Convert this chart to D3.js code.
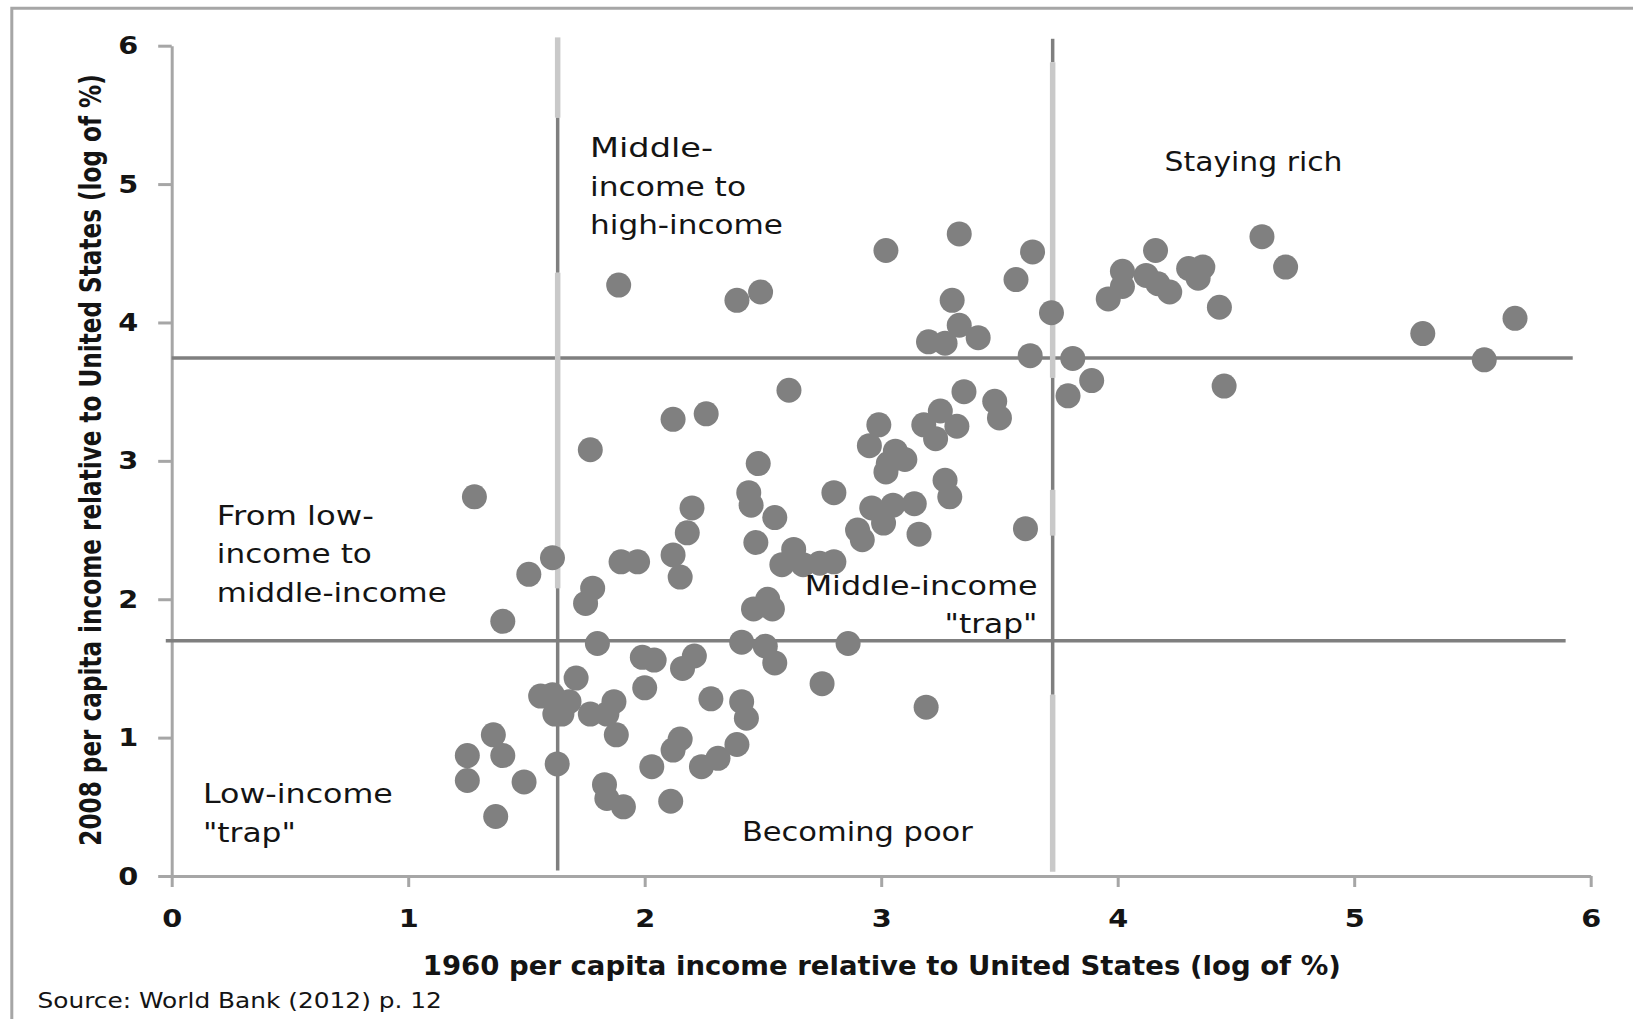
<!DOCTYPE html>
<html>
<head>
<meta charset="utf-8">
<script src="https://cdn.jsdelivr.net/npm/d3@7"></script>
<style>
  html, body { margin: 0; padding: 0; background: #ffffff; }
  svg { display: block; }
</style>
</head>
<body>
<svg id="chart" width="1633" height="1019"></svg>
<script>
// ---------------- DATA ----------------
const x1960 = [
  1.89, 2.39, 2.49, 3.02, 3.33, 3.64, 3.57, 3.30, 3.72, 3.33,
  3.41, 3.20, 3.27, 3.63, 3.81, 3.89, 3.79, 2.61, 2.12, 2.26,
  1.77, 2.48, 2.99, 3.35, 3.48, 3.50, 3.25, 3.18, 3.32, 3.23,
  2.95, 3.06, 3.10, 3.03, 3.02, 3.27, 2.80, 2.44, 3.29, 4.16,
  4.61, 4.71, 4.02, 4.12, 4.02, 3.96, 4.22, 4.17, 4.30, 4.36,
  4.34, 4.43, 4.45, 5.29, 5.55, 5.68, 2.45, 2.20, 2.18, 2.55,
  2.96, 3.05, 3.14, 3.01, 2.90, 2.92, 3.16, 3.61, 2.47, 2.63,
  2.58, 2.67, 2.74, 2.80, 2.12, 2.15, 1.90, 1.97, 1.61, 1.78,
  1.75, 2.52, 2.46, 2.54, 1.80, 2.41, 2.51, 2.55, 2.86, 1.99,
  2.04, 2.21, 2.16, 1.71, 1.61, 1.68, 1.65, 1.77, 1.87, 1.84,
  2.00, 2.28, 2.41, 2.43, 2.75, 3.19, 1.88, 2.15, 2.12, 2.39,
  2.31, 2.24, 2.03, 1.63, 1.83, 1.84, 1.91, 2.11, 1.28, 1.51,
  1.40, 1.56, 1.36, 1.25, 1.40, 1.25, 1.49, 1.37, 1.62
];
const y2008 = [
  4.27, 4.16, 4.22, 4.52, 4.64, 4.51, 4.31, 4.16, 4.07, 3.98,
  3.89, 3.86, 3.85, 3.76, 3.74, 3.58, 3.47, 3.51, 3.30, 3.34,
  3.08, 2.98, 3.26, 3.50, 3.43, 3.31, 3.36, 3.26, 3.25, 3.16,
  3.11, 3.07, 3.01, 2.98, 2.92, 2.86, 2.77, 2.77, 2.74, 4.52,
  4.62, 4.40, 4.37, 4.34, 4.26, 4.17, 4.22, 4.28, 4.39, 4.40,
  4.32, 4.11, 3.54, 3.92, 3.73, 4.03, 2.68, 2.66, 2.48, 2.59,
  2.66, 2.68, 2.69, 2.55, 2.50, 2.43, 2.47, 2.51, 2.41, 2.36,
  2.25, 2.25, 2.26, 2.27, 2.32, 2.16, 2.27, 2.27, 2.30, 2.08,
  1.97, 2.00, 1.93, 1.93, 1.68, 1.69, 1.66, 1.54, 1.68, 1.58,
  1.56, 1.59, 1.50, 1.43, 1.31, 1.26, 1.17, 1.17, 1.26, 1.17,
  1.36, 1.28, 1.26, 1.14, 1.39, 1.22, 1.02, 0.99, 0.91, 0.95,
  0.85, 0.79, 0.79, 0.81, 0.66, 0.56, 0.50, 0.54, 2.74, 2.18,
  1.84, 1.30, 1.02, 0.87, 0.87, 0.69, 0.68, 0.43, 1.17
];
const xTickValues = [0, 1, 2, 3, 4, 5, 6];
const yTickValues = [0, 1, 2, 3, 4, 5, 6];
const xThresholds = [1.632, 3.725];   // 1960 income-group boundaries
const yThresholds = [1.70, 3.743];    // 2008 income-group boundaries

const xTitle = "1960 per capita income relative to United States (log of %)";
const yTitle = "2008 per capita income relative to United States (log of %)";
const sourceText = "Source: World Bank (2012) p. 12";

// quadrant annotation texts and their anchors (data units)
const annotationLines = [
  ["Staying rich"],
  ["Middle-", "income to", "high-income"],
  ["From low-", "income to", "middle-income"],
  ["Low-income", "\"trap\""],
  ["Middle-income", "\"trap\""],
  ["Becoming poor"]
];
const annotationX = [4.198, 1.769, 0.191, 0.132, 3.661, 2.411];
const annotationY = [5.094, 5.193, 2.538, 0.527, 2.034, 0.253];

// ---------------- STYLE / LAYOUT ----------------
const W = 1633, H = 1019;
const axisColor = "#a6a6a6";
const lineDark = "#7f7f7f";
const lineLight = "#c9c9c9";
const dotColor = "#808080";
const textColor = "#141414";
const font = "'DejaVu Sans', 'Liberation Sans', sans-serif";

const annotationAnchor = ["start", "start", "start", "start", "end", "start"];
const annotationWidths = [
  [178], [123, 156, 193], [157, 155, 230], [190, 93], [233, 93], [231]
];
const lineGap = 38.5;

// vertical divider rendering (shaded segments, as in the source image)
const vSegments = [
  [[6.06, 5.48, "l"], [5.48, 4.36, "d"], [4.36, 2.08, "l"], [2.08, 0.04, "d"]],
  [[6.05, 5.88, "d"], [5.88, 3.60, "l"], [3.60, 2.79, "d"], [2.79, 2.46, "l"], [2.46, 1.31, "d"], [1.31, 0.03, "l"]]
];
const hExtent = [[-0.025, 5.894], [0.0, 5.924]];

const svg = d3.select("#chart");
svg.append("rect").attr("width", W).attr("height", H).attr("fill", "#ffffff");

// outer frame (top and left edges visible)
svg.append("path")
  .attr("d", `M11.8,${H}V8.3H${W}`)
  .attr("fill", "none").attr("stroke", axisColor).attr("stroke-width", 3);

const x = d3.scaleLinear().domain([0, 6]).range([171.7, 1590.7]);
const y = d3.scaleLinear().domain([0, 6]).range([876, 45.7]);

// ---------------- AXES ----------------
const gx = svg.append("g")
  .attr("transform", `translate(0,${y(0)})`)
  .call(d3.axisBottom(x).tickValues(xTickValues).tickSize(11).tickSizeOuter(0)
        .tickPadding(22).tickFormat(d3.format("d")));
const gy = svg.append("g")
  .attr("transform", `translate(${x(0)},0)`)
  .call(d3.axisLeft(y).tickValues(yTickValues).tickSize(13.5).tickSizeOuter(0)
        .tickPadding(20).tickFormat(d3.format("d")));

[gx, gy].forEach(g => {
  g.select(".domain").attr("stroke", axisColor).attr("stroke-width", 3);
  g.selectAll(".tick line").attr("stroke", axisColor).attr("stroke-width", 3);
  g.selectAll(".tick text")
    .attr("font-family", font).attr("font-weight", "bold")
    .attr("font-size", 25).attr("fill", textColor)
    .attr("textLength", 20).attr("lengthAdjust", "spacingAndGlyphs");
});

// ---------------- THRESHOLD LINES ----------------
const gl = svg.append("g");
yThresholds.forEach((v, i) => {
  gl.append("line")
    .attr("x1", x(hExtent[i][0])).attr("x2", x(hExtent[i][1]))
    .attr("y1", y(v)).attr("y2", y(v))
    .attr("stroke", lineDark).attr("stroke-width", 3.5);
});
xThresholds.forEach((v, i) => {
  vSegments[i].forEach(s => {
    gl.append("line")
      .attr("x1", x(v)).attr("x2", x(v))
      .attr("y1", y(s[0])).attr("y2", y(s[1]))
      .attr("stroke", s[2] === "d" ? lineDark : lineLight)
      .attr("stroke-width", s[2] === "d" ? 3.5 : 5.5);
  });
});

// ---------------- POINTS ----------------
svg.append("g")
  .selectAll("circle")
  .data(d3.zip(x1960, y2008))
  .join("circle")
  .attr("cx", d => x(d[0]))
  .attr("cy", d => y(d[1]))
  .attr("r", 12.5)
  .attr("fill", dotColor);

// ---------------- TEXT HELPERS ----------------
// draws text at (px, py) and stretches it horizontally to a target width
function fittedText(parent, str, px, py, anchor, width, rotate) {
  const t = parent.append("text")
    .attr("x", 0).attr("y", 0)
    .attr("text-anchor", anchor)
    .text(str);
  const nat = t.node().getComputedTextLength() || width;
  const k = width / nat;
  t.attr("transform", `translate(${px},${py})${rotate ? " rotate(" + rotate + ")" : ""} scale(${k},1)`);
  return t;
}

// ---------------- ANNOTATIONS ----------------
const ga = svg.append("g")
  .attr("font-family", font).attr("font-size", 26).attr("fill", textColor);
annotationLines.forEach((lines, i) => {
  lines.forEach((t, j) => {
    fittedText(ga, t, x(annotationX[i]), y(annotationY[i]) + j * lineGap,
               annotationAnchor[i], annotationWidths[i][j]);
  });
});

// ---------------- TITLES ----------------
const gt = svg.append("g")
  .attr("font-family", font).attr("font-weight", "bold").attr("fill", textColor);
fittedText(gt.append("g").attr("font-size", 27), xTitle, 881.8, 975, "middle", 918.5);
fittedText(gt.append("g").attr("font-size", 30), yTitle, 101, 459.9, "middle", 772, -90);

fittedText(svg.append("g").attr("font-family", font).attr("font-size", 21).attr("fill", textColor),
           sourceText, 37.5, 1007.7, "start", 404.6);
</script>
</body>
</html>
